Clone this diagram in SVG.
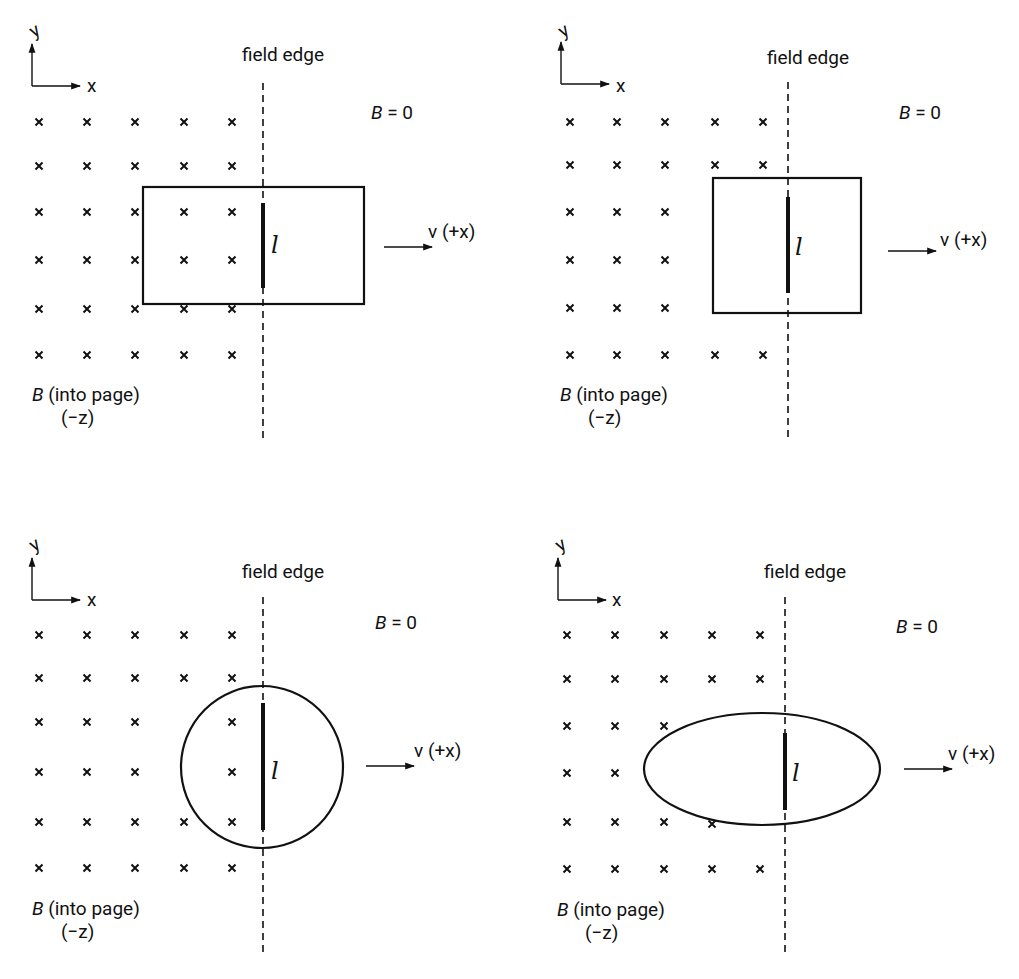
<svg xmlns="http://www.w3.org/2000/svg" width="1019" height="979" viewBox="0 0 1019 979">
<style>
text{font-family:Roboto,"Liberation Sans",sans-serif;font-size:19px;fill:#111}
.ax{stroke:#111;stroke-width:1.4;fill:none}
.dash{stroke:#111;stroke-width:1.6;stroke-dasharray:7,5}
.loop{stroke:#111;stroke-width:2.2;fill:none}
.bar{stroke:#111;stroke-width:4}
.cx{stroke:#111;stroke-width:2}
.it{font-family:"DejaVu Serif","Liberation Serif",serif;font-style:italic;font-size:24px}
</style>
<defs>
<marker id="ah" viewBox="0 0 10 10" refX="9" refY="5" markerWidth="7" markerHeight="7" orient="auto"><path d="M0,1.5L10,5L0,8.5z" fill="#111"/></marker>
<path id="x" d="M-3.5,-3.5L3.5,3.5M3.5,-3.5L-3.5,3.5" class="cx"/>
</defs>

<g id="panel1">
<g id="axes1"><path class="ax" d="M32,86V44" marker-end="url(#ah)"/><path class="ax" d="M32,86H80" marker-end="url(#ah)"/>
<text x="30" y="36" font-size="15" transform="rotate(-30 36 30)">y</text><text x="87" y="92">x</text></g>
<g id="crosses1">
<use href="#x" x="39" y="122"/><use href="#x" x="87" y="122"/><use href="#x" x="135" y="122"/><use href="#x" x="184" y="122"/><use href="#x" x="232" y="122"/>
<use href="#x" x="39" y="166"/><use href="#x" x="87" y="166"/><use href="#x" x="135" y="166"/><use href="#x" x="184" y="166"/><use href="#x" x="232" y="166"/>
<use href="#x" x="39" y="212"/><use href="#x" x="87" y="212"/><use href="#x" x="135" y="212"/><use href="#x" x="184" y="212"/><use href="#x" x="232" y="212"/>
<use href="#x" x="39" y="260"/><use href="#x" x="87" y="260"/><use href="#x" x="135" y="260"/><use href="#x" x="184" y="260"/><use href="#x" x="232" y="260"/>
<use href="#x" x="39" y="309"/><use href="#x" x="87" y="309"/><use href="#x" x="135" y="309"/><use href="#x" x="184" y="309"/><use href="#x" x="232" y="309"/>
<use href="#x" x="39" y="355"/><use href="#x" x="87" y="355"/><use href="#x" x="135" y="355"/><use href="#x" x="184" y="355"/><use href="#x" x="232" y="355"/>
</g>
<line class="dash" x1="263" y1="83" x2="263" y2="442"/>
<text x="283" y="61" text-anchor="middle">field edge</text>
<text x="371" y="119"><tspan font-style="italic">B</tspan> = 0</text>
<rect id="loop1" class="loop" x="143" y="187" width="221" height="117"/>
<line class="bar" x1="263" y1="203" x2="263" y2="288"/>
<text class="it" x="271" y="253">l</text>
<path class="ax" d="M384,247H432" marker-end="url(#ah)"/>
<text x="428" y="238">v (+x)</text>
<text x="32" y="401"><tspan font-style="italic">B</tspan> (into page)</text>
<text x="61" y="424">(−z)</text>
</g>

<g id="panel2">
<g id="axes2"><path class="ax" d="M561,84V42" marker-end="url(#ah)"/><path class="ax" d="M561,84H609" marker-end="url(#ah)"/>
<text x="559" y="36" font-size="15" transform="rotate(-30 565 30)">y</text><text x="616" y="92">x</text></g>
<g id="crosses2">
<use href="#x" x="570" y="122"/><use href="#x" x="617" y="122"/><use href="#x" x="665" y="122"/><use href="#x" x="715" y="122"/><use href="#x" x="763" y="122"/>
<use href="#x" x="570" y="165"/><use href="#x" x="617" y="165"/><use href="#x" x="665" y="165"/><use href="#x" x="715" y="165"/><use href="#x" x="763" y="165"/>
<use href="#x" x="570" y="212"/><use href="#x" x="617" y="212"/><use href="#x" x="665" y="212"/>
<use href="#x" x="570" y="260"/><use href="#x" x="617" y="260"/><use href="#x" x="665" y="260"/>
<use href="#x" x="570" y="308"/><use href="#x" x="617" y="308"/><use href="#x" x="665" y="308"/>
<use href="#x" x="570" y="355"/><use href="#x" x="617" y="355"/><use href="#x" x="665" y="355"/><use href="#x" x="715" y="355"/><use href="#x" x="763" y="355"/>
</g>
<line class="dash" x1="788" y1="82" x2="788" y2="442"/>
<text x="808" y="64" text-anchor="middle">field edge</text>
<text x="899" y="119"><tspan font-style="italic">B</tspan> = 0</text>
<rect id="loop2" class="loop" x="713" y="178" width="148" height="135"/>
<line class="bar" x1="788" y1="197" x2="788" y2="293"/>
<text class="it" x="795" y="255">l</text>
<path class="ax" d="M888,251H936" marker-end="url(#ah)"/>
<text x="940" y="246">v (+x)</text>
<text x="560" y="401"><tspan font-style="italic">B</tspan> (into page)</text>
<text x="588" y="424">(−z)</text>
</g>

<g id="panel3">
<g id="axes3"><path class="ax" d="M32,600V558" marker-end="url(#ah)"/><path class="ax" d="M32,600H80" marker-end="url(#ah)"/>
<text x="30" y="550" font-size="15" transform="rotate(-30 36 544)">y</text><text x="87" y="606">x</text></g>
<g id="crosses3">
<use href="#x" x="39" y="635"/><use href="#x" x="87" y="635"/><use href="#x" x="135" y="635"/><use href="#x" x="184" y="635"/><use href="#x" x="232" y="635"/>
<use href="#x" x="39" y="678"/><use href="#x" x="87" y="678"/><use href="#x" x="135" y="678"/><use href="#x" x="184" y="678"/><use href="#x" x="232" y="678"/>
<use href="#x" x="39" y="722"/><use href="#x" x="87" y="722"/><use href="#x" x="135" y="722"/><use href="#x" x="232" y="722"/>
<use href="#x" x="39" y="772"/><use href="#x" x="87" y="772"/><use href="#x" x="135" y="772"/><use href="#x" x="232" y="772"/>
<use href="#x" x="39" y="822"/><use href="#x" x="87" y="822"/><use href="#x" x="135" y="822"/><use href="#x" x="184" y="822"/><use href="#x" x="232" y="822"/>
<use href="#x" x="39" y="868"/><use href="#x" x="87" y="868"/><use href="#x" x="135" y="868"/><use href="#x" x="184" y="868"/><use href="#x" x="232" y="868"/>
</g>
<line class="dash" x1="263" y1="597" x2="263" y2="955"/>
<text x="283" y="578" text-anchor="middle">field edge</text>
<text x="375" y="629"><tspan font-style="italic">B</tspan> = 0</text>
<circle id="loop3" class="loop" cx="262" cy="767" r="81"/>
<line class="bar" x1="263" y1="703" x2="263" y2="830"/>
<text class="it" x="271" y="779">l</text>
<path class="ax" d="M366,766H414" marker-end="url(#ah)"/>
<text x="414" y="757">v (+x)</text>
<text x="32" y="915"><tspan font-style="italic">B</tspan> (into page)</text>
<text x="61" y="938">(−z)</text>
</g>

<g id="panel4">
<g id="axes4"><path class="ax" d="M558,600V558" marker-end="url(#ah)"/><path class="ax" d="M558,600H606" marker-end="url(#ah)"/>
<text x="556" y="550" font-size="15" transform="rotate(-30 562 544)">y</text><text x="612" y="606">x</text></g>
<g id="crosses4">
<use href="#x" x="567" y="635"/><use href="#x" x="615" y="635"/><use href="#x" x="664" y="635"/><use href="#x" x="712" y="635"/><use href="#x" x="760" y="635"/>
<use href="#x" x="567" y="679"/><use href="#x" x="615" y="679"/><use href="#x" x="664" y="679"/><use href="#x" x="712" y="679"/><use href="#x" x="760" y="679"/>
<use href="#x" x="567" y="726"/><use href="#x" x="615" y="726"/><use href="#x" x="664" y="726"/>
<use href="#x" x="567" y="773"/><use href="#x" x="615" y="773"/>
<use href="#x" x="567" y="822"/><use href="#x" x="615" y="822"/><use href="#x" x="664" y="822"/><use href="#x" x="712" y="824"/>
<use href="#x" x="567" y="869"/><use href="#x" x="615" y="869"/><use href="#x" x="664" y="869"/><use href="#x" x="712" y="869"/><use href="#x" x="760" y="869"/>
</g>
<line class="dash" x1="785" y1="597" x2="785" y2="955"/>
<text x="805" y="578" text-anchor="middle">field edge</text>
<text x="896" y="633"><tspan font-style="italic">B</tspan> = 0</text>
<ellipse id="loop4" class="loop" cx="762" cy="769" rx="118" ry="56"/>
<line class="bar" x1="785" y1="733" x2="785" y2="810"/>
<text class="it" x="792" y="781">l</text>
<path class="ax" d="M904,769H952" marker-end="url(#ah)"/>
<text x="948" y="760">v (+x)</text>
<text x="557" y="916"><tspan font-style="italic">B</tspan> (into page)</text>
<text x="585" y="939">(−z)</text>
</g>
</svg>
